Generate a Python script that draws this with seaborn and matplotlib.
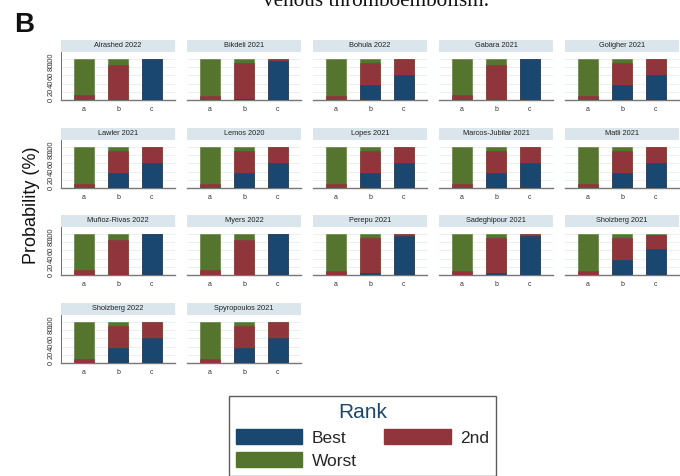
import matplotlib
matplotlib.use("Agg")
import matplotlib.pyplot as plt
from matplotlib.patches import Rectangle, Patch
import numpy as np
import pandas as pd
import seaborn as sns

# Rank probabilities (%) per study for treatments a, b, c
studies = [
    "Alrashed 2022", "Bikdeli 2021", "Bohula 2022", "Gabara 2021", "Goligher 2021",
    "Lawler 2021", "Lemos 2020", "Lopes 2021", "Marcos-Jubilar 2021", "Matli 2021",
    "Muñoz-Rivas 2022", "Myers 2022", "Perepu 2021", "Sadeghipour 2021", "Sholzberg 2021",
    "Sholzberg 2022", "Spyropoulos 2021",
]
treatments = ["a", "b", "c"]

best_prob = [
    [0, 0, 100], [0, 3, 95], [0, 36, 62], [0, 0, 100], [0, 36, 62],
    [0, 36, 62], [0, 36, 62], [0, 36, 62], [0, 36, 62], [0, 36, 62],
    [0, 0, 100], [0, 0, 100], [0, 4, 94], [0, 4, 94], [1, 36, 63],
    [0, 37, 62], [0, 37, 62],
]
second_prob = [
    [13, 85, 0], [9, 87, 5], [9, 54, 37], [13, 85, 0], [9, 54, 37],
    [10, 53, 37], [10, 53, 37], [10, 53, 37], [10, 53, 37], [10, 53, 37],
    [13, 85, 0], [13, 85, 0], [9, 85, 6], [9, 85, 6], [9, 53, 35],
    [10, 52, 37], [10, 52, 37],
]
worst_prob = [
    [87, 15, 0], [91, 10, 0], [91, 10, 1], [87, 15, 0], [91, 10, 1],
    [90, 11, 1], [90, 11, 1], [90, 11, 1], [90, 11, 1], [90, 11, 1],
    [87, 15, 0], [87, 15, 0], [91, 11, 0], [91, 11, 0], [90, 11, 2],
    [90, 11, 1], [90, 11, 1],
]

rank_labels = ["Best", "2nd", "Worst"]
rank_colors = {"Best": "#1a476f", "2nd": "#90353b", "Worst": "#55752f"}

W, H = 680, 476
fig = plt.figure(figsize=(W / 100, H / 100), dpi=100)
sns.set_style("white")
plt.rcParams["font.family"] = ["Liberation Sans", "DejaVu Sans"]


def fx(x):
    return x / W


def fy(y):
    return 1 - y / H


col_left = [61 + 126 * i for i in range(5)]
row_bottom = [100, 188, 275, 363]
ax_w, ax_h = 114, 48
hdr_h = 11.5

for k, study in enumerate(studies):
    r, c = divmod(k, 5)
    left, bottom = col_left[c], row_bottom[r]
    ax = fig.add_axes([fx(left), fy(bottom), ax_w / W, ax_h / H])

    df = pd.DataFrame({
        "treatment": treatments,
        "Best": best_prob[k],
        "2nd": second_prob[k],
        "Worst": worst_prob[k],
    })
    df["cum_best"] = df["Best"]
    df["cum_2nd"] = df["Best"] + df["2nd"]
    df["cum_worst"] = df["Best"] + df["2nd"] + df["Worst"]

    for col, rank in [("cum_worst", "Worst"), ("cum_2nd", "2nd"), ("cum_best", "Best")]:
        sns.barplot(data=df, x="treatment", y=col, order=treatments, color=rank_colors[rank],
                    saturation=1, width=0.59, errorbar=None, ax=ax, zorder=3,
                    edgecolor=rank_colors[rank], linewidth=0.4)

    ax.set_xlim(-0.68, 2.68)
    ax.set_ylim(0, 117)
    ax.set_xlabel("")
    ax.set_ylabel("")
    ax.set_yticks([0, 20, 40, 60, 80, 100])
    for yv in [20, 40, 60, 80, 100]:
        ax.axhline(yv, color="#e6eef0", lw=0.6, zorder=1)
    for s in ["top", "right"]:
        ax.spines[s].set_visible(False)
    ax.spines["bottom"].set_color("#777777")
    ax.spines["bottom"].set_linewidth(1.0)
    ax.tick_params(axis="x", length=2, width=0.5, color="#777777", labelsize=5,
                   labelcolor="#333333", pad=2)
    if c == 0:
        ax.spines["left"].set_color("#555555")
        ax.spines["left"].set_linewidth(0.6)
        ax.tick_params(axis="y", length=3.5, width=0.5, color="#555555", labelsize=5.4,
                       labelcolor="#333333", pad=1)
        for lab in ax.get_yticklabels():
            lab.set_rotation(90)
            lab.set_va("center")
    else:
        ax.spines["left"].set_visible(False)
        ax.tick_params(axis="y", length=0, labelleft=False)

    # Study header strip
    top = bottom - ax_h
    fig.add_artist(Rectangle((fx(left), fy(top - 0.5)), ax_w / W, hdr_h / H,
                             transform=fig.transFigure, facecolor="#dbe6ec",
                             edgecolor="none"))
    fig.text(fx(left + ax_w / 2), fy(top - 0.5 - hdr_h / 2), study, ha="center",
             va="center", fontsize=5.3, color="#222222")

fig.text(fx(31), fy(205), "Probability (%)", rotation=90, ha="center", va="center",
         fontsize=13, color="#111111")
fig.text(fx(14), fy(32), "B", fontsize=20, fontweight="bold", ha="left",
         va="baseline", color="#111111")
fig.text(fx(263), fy(6), "venous thromboembolism.", fontsize=15.3, ha="left",
         va="baseline", family=["Liberation Serif", "DejaVu Serif"], color="#111111")

handles = [Patch(facecolor=rank_colors[r], edgecolor=rank_colors[r]) for r in rank_labels]
order = [0, 2, 1]
leg = fig.legend([handles[i] for i in order], [rank_labels[i] for i in order],
                 ncol=2, loc="upper center", bbox_to_anchor=(fx(362.5), fy(387.5)),
                 title="Rank", fontsize=12.5, title_fontsize=15, frameon=True,
                 fancybox=False, edgecolor="#333333", handlelength=3.85,
                 handleheight=0.95, handletextpad=0.55, columnspacing=1.55,
                 labelspacing=0.4, borderpad=0.4)
leg.get_title().set_color("#1a476f")
leg.get_frame().set_linewidth(1.0)

fig.savefig("out.png", dpi=100)
